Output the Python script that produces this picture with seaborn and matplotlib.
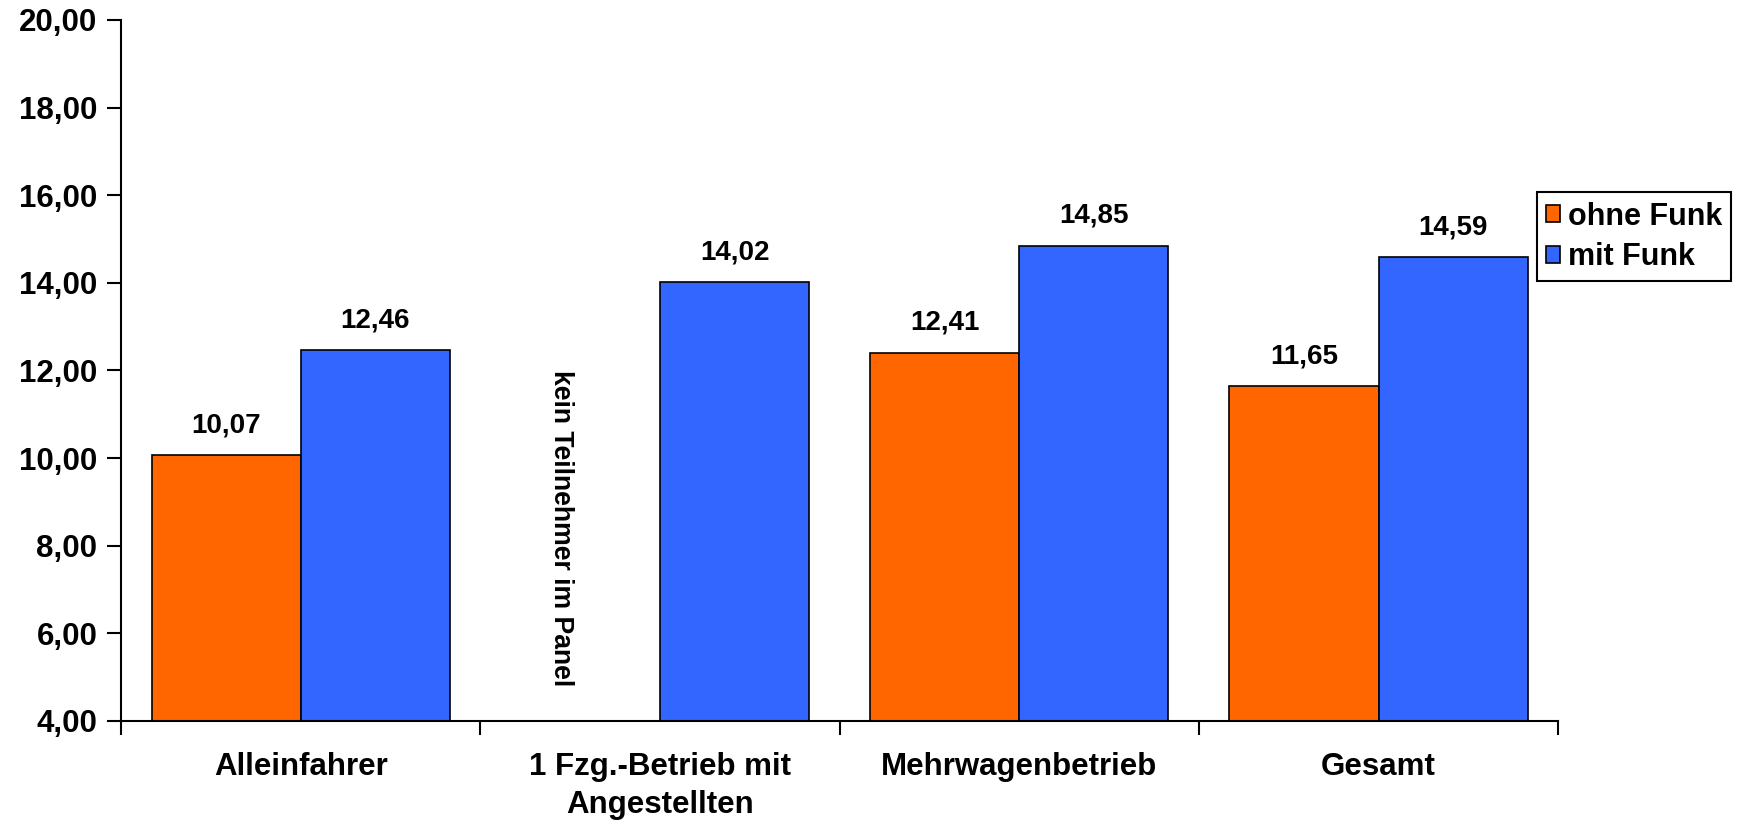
import numpy as np
import pandas as pd
import matplotlib
matplotlib.use("Agg")
import matplotlib.pyplot as plt
import seaborn as sns
from matplotlib.patches import Patch

categories = ["Alleinfahrer", "1 Fzg.-Betrieb mit\nAngestellten", "Mehrwagenbetrieb", "Gesamt"]
series_names = ["ohne Funk", "mit Funk"]
ohne_funk = [10.07, np.nan, 12.41, 11.65]
mit_funk = [12.46, 14.02, 14.85, 14.59]
y_ticks = [4, 6, 8, 10, 12, 14, 16, 18, 20]
note_text = "kein Teilnehmer im Panel"

sns.set_style("white")
plt.rcParams['font.family'] = ['Liberation Sans', 'DejaVu Sans']
plt.rcParams['font.weight'] = 'bold'
plt.rcParams['text.color'] = 'black'
plt.rcParams['xtick.color'] = 'black'
plt.rcParams['ytick.color'] = 'black'
plt.rcParams['xtick.labelcolor'] = 'black'
plt.rcParams['ytick.labelcolor'] = 'black'

df = pd.DataFrame({
    "cat": categories * 2,
    "serie": [series_names[0]] * 4 + [series_names[1]] * 4,
    "val": ohne_funk + mit_funk,
})

colors = ["#FF6600", "#3366FF"]

fig = plt.figure(figsize=(17.41, 8.22), dpi=100)
ax = fig.add_axes([0.0695, 0.1229, 0.8255, 0.8528])

sns.barplot(data=df, x="cat", y="val", hue="serie", order=categories,
            hue_order=series_names, palette=colors, saturation=1,
            width=0.83, gap=0, errorbar=None, edgecolor="black",
            linewidth=1.2, ax=ax, legend=False)

fmt = lambda v: f"{v:.2f}".replace(".", ",")
for cont in ax.containers:
    labels = [fmt(p.get_height()) if np.isfinite(p.get_height()) and p.get_height() > 0 else "" for p in cont]
    ax.bar_label(cont, labels=labels, padding=12, fontsize=20, fontweight='bold', color='black')

ax.set_ylim(4, 20)
ax.set_xlim(-0.5, 3.5)
ax.set_yticks(y_ticks)
ax.set_yticklabels([fmt(v) for v in y_ticks], fontsize=22.5, fontweight='bold')

# category boundary ticks (major) and labels at centers (minor)
ax.set_xticks(np.arange(-0.5, 4.0, 1.0))
ax.set_xticklabels([])
ax.set_xticks(np.arange(len(categories)), minor=True)
ax.set_xticklabels(categories, minor=True, fontsize=22.5, fontweight='bold', linespacing=1.35)
ax.tick_params(axis='x', which='major', direction='out', length=10, width=1.5, color='black', bottom=True)
ax.tick_params(axis='x', which='minor', length=0, pad=22)
ax.tick_params(axis='y', direction='out', length=10, width=1.5, color='black', left=True, pad=7)

for s in ["top", "right"]:
    ax.spines[s].set_visible(False)
for s in ["left", "bottom"]:
    ax.spines[s].set_color("black")
    ax.spines[s].set_linewidth(1.5)

ax.set_xlabel("")
ax.set_ylabel("")

ax.text(0.725, 12.0, note_text, rotation=270, ha='center', va='top',
        fontsize=19.2, fontweight='bold', color='black')

handles = [Patch(facecolor=c, edgecolor='black', linewidth=1.2) for c in colors]
leg = fig.legend(handles, series_names, loc='upper left',
                 bbox_to_anchor=(0.883, 0.766), bbox_transform=fig.transFigure,
                 borderaxespad=0, fontsize=22, handlelength=0.45, handleheight=0.45,
                 handletextpad=0.25, fancybox=False, framealpha=1,
                 edgecolor='black', labelspacing=0.35, borderpad=0.3)
leg.get_frame().set_linewidth(1.5)
for t in leg.get_texts():
    t.set_fontweight('bold')
    t.set_color('black')

fig.savefig("out.png", dpi=100)
